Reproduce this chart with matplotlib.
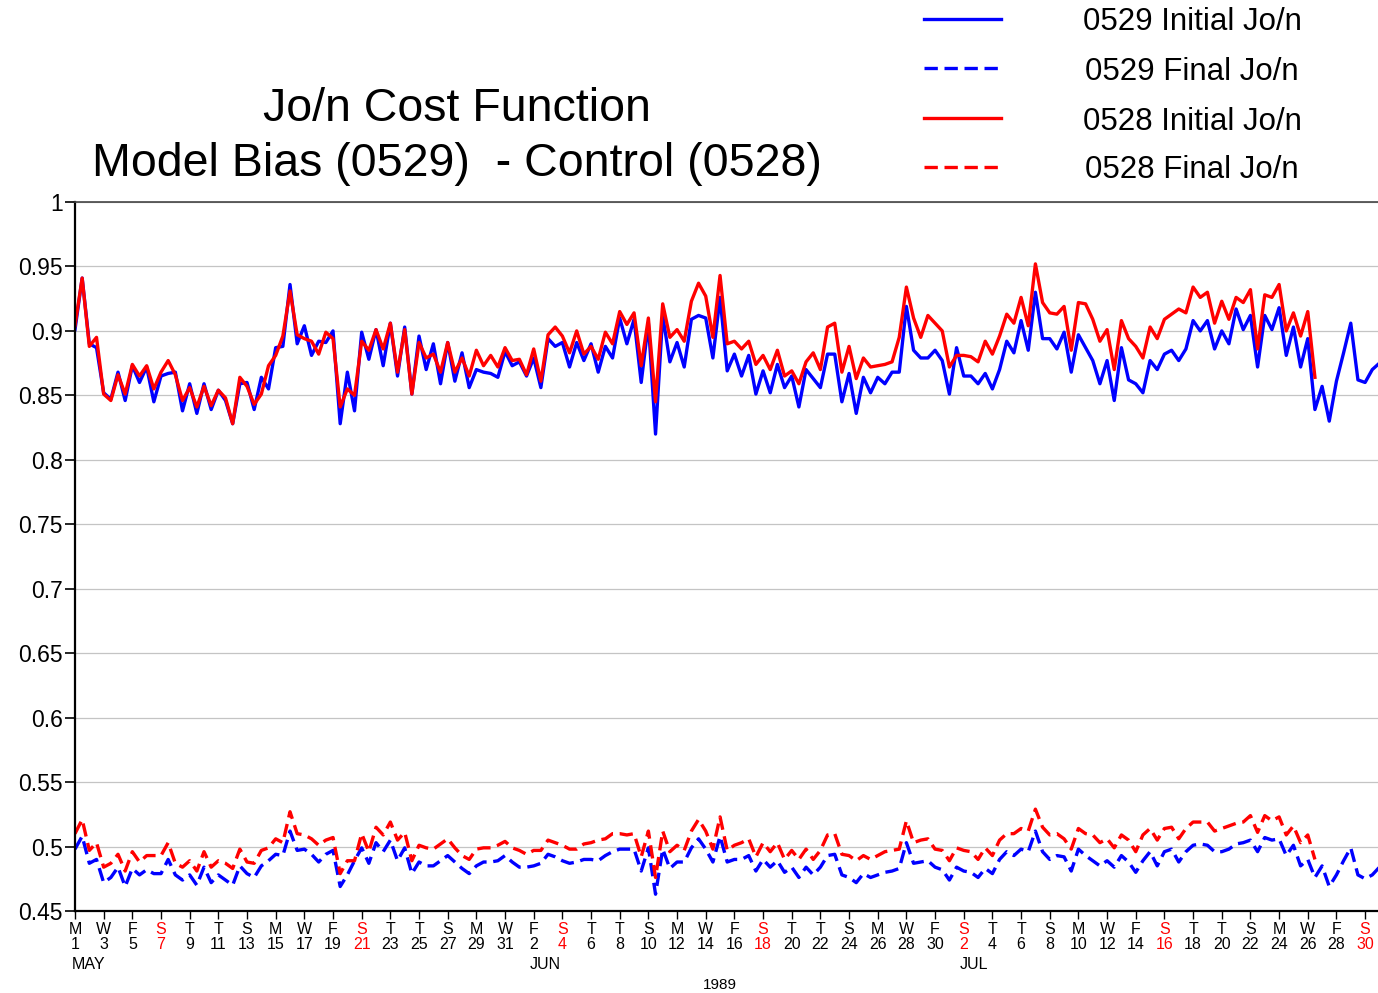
import datetime as dt
import numpy as np
import matplotlib
matplotlib.use("Agg")
import matplotlib.pyplot as plt
from matplotlib.lines import Line2D
from matplotlib.transforms import blended_transform_factory

plt.rcParams['font.family'] = ['Liberation Sans', 'DejaVu Sans']

# 12-hourly values starting 1989-05-01 00Z
init_0529 = [0.901, 0.941, 0.890, 0.887, 0.852, 0.847, 0.868, 0.846, 0.873, 0.860,
             0.872, 0.845, 0.865, 0.867, 0.868, 0.838, 0.859, 0.836, 0.859, 0.839,
             0.854, 0.846, 0.828, 0.859, 0.860, 0.839, 0.864, 0.855, 0.887, 0.888,
             0.936, 0.890, 0.904, 0.881, 0.892, 0.891, 0.900, 0.828, 0.868, 0.838,
             0.899, 0.878, 0.901, 0.873, 0.906, 0.865, 0.903, 0.851, 0.896, 0.870,
             0.890, 0.859, 0.891, 0.861, 0.883, 0.856, 0.870, 0.868, 0.867, 0.864,
             0.884, 0.873, 0.876, 0.865, 0.879, 0.856, 0.894, 0.888, 0.891, 0.872,
             0.891, 0.877, 0.890, 0.868, 0.888, 0.879, 0.910, 0.890, 0.909, 0.860,
             0.906, 0.820, 0.912, 0.876, 0.891, 0.872, 0.909, 0.912, 0.910, 0.879,
             0.926, 0.869, 0.882, 0.865, 0.881, 0.851, 0.869, 0.852, 0.874, 0.856,
             0.865, 0.841, 0.870, 0.863, 0.856, 0.882, 0.882, 0.845, 0.867, 0.836,
             0.864, 0.852, 0.864, 0.859, 0.868, 0.868, 0.919, 0.885, 0.879, 0.879,
             0.885, 0.877, 0.851, 0.887, 0.865, 0.865, 0.859, 0.867, 0.855, 0.870,
             0.892, 0.883, 0.908, 0.885, 0.930, 0.894, 0.894, 0.886, 0.899, 0.868,
             0.897, 0.887, 0.877, 0.859, 0.877, 0.846, 0.887, 0.862, 0.859, 0.852,
             0.877, 0.870, 0.882, 0.885, 0.877, 0.886, 0.908, 0.900, 0.908, 0.886,
             0.900, 0.890, 0.917, 0.901, 0.912, 0.872, 0.912, 0.901, 0.918, 0.881,
             0.903, 0.872, 0.894, 0.839, 0.857, 0.830, 0.861, 0.883, 0.906, 0.862,
             0.860, 0.870, 0.875]

final_0529 = [0.498, 0.508, 0.487, 0.490, 0.472, 0.476, 0.484, 0.469, 0.483, 0.478,
              0.482, 0.479, 0.479, 0.490, 0.478, 0.474, 0.478, 0.470, 0.484, 0.472,
              0.478, 0.474, 0.470, 0.485, 0.479, 0.476, 0.485, 0.489, 0.494, 0.493,
              0.512, 0.497, 0.498, 0.494, 0.488, 0.494, 0.497, 0.469, 0.478, 0.489,
              0.499, 0.487, 0.503, 0.496, 0.505, 0.489, 0.499, 0.479, 0.488, 0.485,
              0.485, 0.489, 0.493, 0.488, 0.483, 0.479, 0.485, 0.488, 0.488, 0.489,
              0.493, 0.488, 0.484, 0.484, 0.485, 0.487, 0.494, 0.492, 0.489, 0.487,
              0.488, 0.490, 0.490, 0.489, 0.493, 0.496, 0.498, 0.498, 0.498, 0.481,
              0.499, 0.463, 0.498, 0.483, 0.488, 0.488, 0.499, 0.506, 0.498, 0.488,
              0.508, 0.488, 0.490, 0.490, 0.493, 0.481, 0.490, 0.484, 0.489, 0.480,
              0.484, 0.476, 0.484, 0.478, 0.484, 0.493, 0.494, 0.478, 0.476, 0.472,
              0.479, 0.476, 0.478, 0.480, 0.481, 0.483, 0.503, 0.487, 0.488, 0.489,
              0.484, 0.482, 0.474, 0.484, 0.481, 0.480, 0.476, 0.483, 0.479, 0.490,
              0.496, 0.493, 0.498, 0.496, 0.512, 0.496, 0.490, 0.493, 0.492, 0.481,
              0.498, 0.493, 0.489, 0.485, 0.489, 0.484, 0.493, 0.488, 0.480, 0.489,
              0.496, 0.485, 0.496, 0.498, 0.488, 0.496, 0.501, 0.502, 0.501, 0.496,
              0.496, 0.498, 0.502, 0.503, 0.505, 0.496, 0.507, 0.505, 0.506, 0.493,
              0.501, 0.485, 0.490, 0.476, 0.485, 0.469, 0.478, 0.489, 0.499, 0.478,
              0.475, 0.478, 0.484]

init_0528 = [0.904, 0.941, 0.888, 0.895, 0.851, 0.846, 0.866, 0.851, 0.874, 0.865,
             0.873, 0.855, 0.868, 0.877, 0.866, 0.846, 0.856, 0.841, 0.857, 0.842,
             0.854, 0.848, 0.828, 0.864, 0.857, 0.843, 0.851, 0.873, 0.881, 0.896,
             0.931, 0.897, 0.894, 0.892, 0.882, 0.899, 0.894, 0.841, 0.855, 0.850,
             0.892, 0.885, 0.901, 0.886, 0.906, 0.868, 0.901, 0.851, 0.891, 0.879,
             0.882, 0.868, 0.891, 0.868, 0.879, 0.865, 0.885, 0.873, 0.881, 0.872,
             0.887, 0.877, 0.878, 0.866, 0.886, 0.861, 0.897, 0.903, 0.896, 0.883,
             0.900, 0.882, 0.888, 0.878, 0.899, 0.890, 0.915, 0.905, 0.914, 0.873,
             0.910, 0.845, 0.921, 0.895, 0.901, 0.892, 0.923, 0.937, 0.927, 0.895,
             0.943, 0.890, 0.892, 0.886, 0.892, 0.874, 0.881, 0.870, 0.885, 0.865,
             0.869, 0.859, 0.876, 0.883, 0.870, 0.903, 0.906, 0.868, 0.888, 0.863,
             0.879, 0.872, 0.873, 0.874, 0.876, 0.895, 0.934, 0.910, 0.895, 0.912,
             0.906, 0.900, 0.872, 0.881, 0.881, 0.880, 0.876, 0.892, 0.882, 0.896,
             0.913, 0.906, 0.926, 0.904, 0.952, 0.922, 0.914, 0.913, 0.919, 0.885,
             0.922, 0.921, 0.909, 0.892, 0.901, 0.870, 0.908, 0.894, 0.888, 0.879,
             0.903, 0.894, 0.909, 0.913, 0.917, 0.914, 0.934, 0.926, 0.930, 0.906,
             0.923, 0.909, 0.926, 0.922, 0.932, 0.886, 0.928, 0.926, 0.936, 0.900,
             0.914, 0.896, 0.915, 0.864]

final_0528 = [0.510, 0.521, 0.497, 0.503, 0.484, 0.487, 0.494, 0.481, 0.496, 0.488,
              0.493, 0.493, 0.493, 0.503, 0.487, 0.484, 0.489, 0.481, 0.496, 0.484,
              0.489, 0.487, 0.483, 0.498, 0.488, 0.487, 0.497, 0.499, 0.506, 0.503,
              0.527, 0.510, 0.509, 0.506, 0.501, 0.505, 0.507, 0.479, 0.489, 0.489,
              0.510, 0.496, 0.515, 0.509, 0.519, 0.505, 0.511, 0.489, 0.501, 0.499,
              0.498, 0.502, 0.506, 0.499, 0.493, 0.490, 0.498, 0.499, 0.499, 0.501,
              0.504, 0.499, 0.497, 0.494, 0.497, 0.497, 0.505, 0.503, 0.501, 0.498,
              0.498, 0.502, 0.503, 0.505, 0.506, 0.510, 0.510, 0.509, 0.510, 0.492,
              0.512, 0.476, 0.512, 0.496, 0.501, 0.497, 0.512, 0.521, 0.512, 0.498,
              0.523, 0.497, 0.501, 0.503, 0.506, 0.492, 0.503, 0.496, 0.503, 0.490,
              0.497, 0.490, 0.498, 0.490, 0.497, 0.509, 0.510, 0.494, 0.493, 0.489,
              0.493, 0.490, 0.493, 0.496, 0.497, 0.498, 0.520, 0.503, 0.505, 0.506,
              0.498, 0.497, 0.489, 0.499, 0.497, 0.496, 0.490, 0.499, 0.493, 0.505,
              0.510, 0.510, 0.514, 0.512, 0.529, 0.515, 0.509, 0.510, 0.506, 0.498,
              0.514, 0.510, 0.509, 0.503, 0.506, 0.499, 0.509, 0.505, 0.496, 0.509,
              0.514, 0.505, 0.514, 0.515, 0.506, 0.514, 0.519, 0.519, 0.519, 0.512,
              0.514, 0.516, 0.518, 0.519, 0.524, 0.511, 0.524, 0.520, 0.523, 0.509,
              0.516, 0.503, 0.509, 0.490]

start = dt.date(1989, 5, 1)
step_days = 0.5
yticks = [0.45, 0.5, 0.55, 0.6, 0.65, 0.7, 0.75, 0.8, 0.85, 0.9, 0.95, 1.0]
ytick_labels = ['0.45', '0.5', '0.55', '0.6', '0.65', '0.7', '0.75', '0.8', '0.85', '0.9', '0.95', '1']
months = [(0, 'MAY'), (32, 'JUN'), (62, 'JUL')]

fig = plt.figure(figsize=(13.78, 9.93), dpi=100)
ax = fig.add_axes([75 / 1378, 82 / 993, 1303 / 1378, 709 / 993])

lw = 2.4
t = lambda v: np.arange(len(v)) * step_days
l1, = ax.plot(t(init_0529), init_0529, color='#0000ff', lw=lw, label='0529 Initial Jo/n')
l2, = ax.plot(t(final_0529), final_0529, color='#0000ff', lw=lw, dashes=(4, 2), label='0529 Final Jo/n')
l3, = ax.plot(t(init_0528), init_0528, color='#ff0000', lw=lw, label='0528 Initial Jo/n')
l4, = ax.plot(t(final_0528), final_0528, color='#ff0000', lw=lw, dashes=(4, 2), label='0528 Final Jo/n')

ax.set_xlim(0, 90.9)
ax.set_ylim(0.45, 1.0)
ax.set_yticks(yticks)
ax.set_yticklabels(ytick_labels, fontsize=16.5)
ax.yaxis.grid(True, color='#c4c4c4', lw=0.9)
ax.set_axisbelow(True)
ax.tick_params(axis='y', direction='out', length=7, width=1.2, pad=2)

# x ticks every 2 days, weekday letter above day number, Sundays red
tick_days = list(range(0, 91, 2))
tick_dates = [start + dt.timedelta(days=d) for d in tick_days]
tick_labels = ['SMTWTFS'[(d.weekday() + 1) % 7] + '\n' + str(d.day) for d in tick_dates]
ax.set_xticks(tick_days)
ax.set_xticklabels(tick_labels, fontsize=11.5, linespacing=0.95)
for lab, d in zip(ax.get_xticklabels(), tick_dates):
    if d.weekday() == 6:
        lab.set_color('#ff0000')
ax.tick_params(axis='x', direction='out', length=6, width=1.0, pad=2)

for sp in ['left', 'bottom']:
    ax.spines[sp].set_linewidth(1.6)
ax.spines['right'].set_visible(False)
ax.spines['top'].set_color('#444444')
ax.spines['top'].set_linewidth(1.2)

trans = blended_transform_factory(ax.transData, ax.transAxes)
for d, name in months:
    ax.text(d - 0.25, -0.0755, name, transform=trans, ha='left', va='center', fontsize=11.5)
ax.text(0.495, -0.1044, '1989', transform=ax.transAxes, ha='center', va='center', fontsize=11)

fig.text(457 / 1378, 1 - 109 / 993, 'Jo/n Cost Function', ha='center', va='center', fontsize=33.5)
fig.text(457 / 1378, 1 - 164 / 993, 'Model Bias (0529)  - Control (0528)', ha='center', va='center', fontsize=33.5)

# legend drawn by hand to match placement
rows_y = [19, 68, 118, 167]
for line, yy in zip([l1, l2, l3, l4], rows_y):
    yf = 1 - yy / 993
    h = Line2D([924 / 1378, 1001 / 1378], [yf, yf], transform=fig.transFigure,
               color=line.get_color(), lw=lw, linestyle=line.get_linestyle())
    if line in (l2, l4):
        h.set_dashes((4, 2))
    fig.add_artist(h)
    fig.text(1192 / 1378, 1 - (yy + 3.5) / 993, line.get_label(), ha='center', va='center', fontsize=22.5)

fig.savefig('out.png', dpi=100)
